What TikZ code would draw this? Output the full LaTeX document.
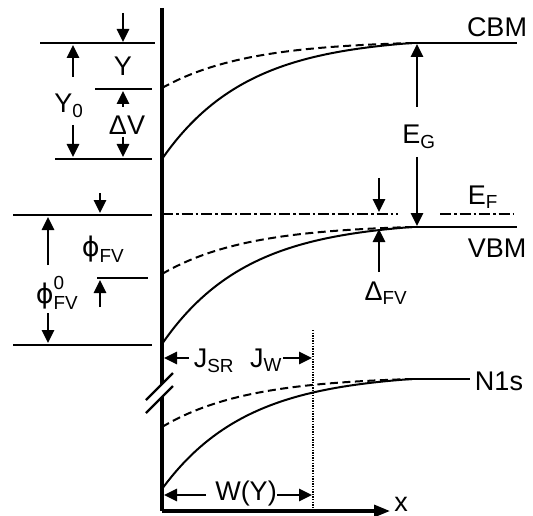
\documentclass[tikz,border=0pt]{standalone}
\usepackage{amsmath}
\usepackage{fontspec}
\setmainfont{Liberation Sans}
\newfontfamily\dejavu{DejaVu Sans}
\usetikzlibrary{arrows.meta}

% one band edge bending towards the surface
\newcommand{\bandedge}[3]{%
  \draw[#1] plot[domain=0:250,samples=80]
    ({162+\x},{#2+(#3-#2)*(exp(-\x/85)-exp(-250/85))/(1-exp(-250/85))});}
\newcommand{\phig}{{\dejavu ϕ}}

\begin{document}
\begin{tikzpicture}[x=1pt,y=-1pt,
   lab/.style={font=\fontsize{27}{30}\selectfont,inner sep=0pt},
   dim/.style={line width=2.6pt,-{Triangle[length=13pt,width=12pt]}},
   lvl/.style={line width=2.3pt},
   band/.style={line width=2pt},
   dsh/.style={band,dash pattern=on 8pt off 4.5pt},
   fermi/.style={line width=2pt,dash pattern=on 11pt off 3pt on 2.5pt off 3pt},
   axis/.style={line width=3.2pt}]
  \useasboundingbox (0,0) rectangle (533,516);

  % axes with the break
  \draw[axis] (162,8) -- (162,384);
  \draw[axis] (162,397) -- (162,511);
  \draw[lvl] (146,400) -- (173,373);
  \draw[lvl] (146,413) -- (173,386);
  \draw[axis,-{Triangle[length=16pt,width=12pt]}] (162,511) -- (390,511);
  \node[lab] (xlab) at (401,504) {x};

  % bands
  \bandedge{dsh}{43}{88}
  \bandedge{band}{43}{159}
  \draw[band] (412,43) -- (517,43);
  \bandedge{dsh}{227}{274}
  \bandedge{band}{227}{344}
  \draw[band] (412,227) -- (517,227);
  \bandedge{dsh}{379}{427}
  \bandedge{band}{379}{489}
  \draw[band] (412,379) -- (470,379);
  \draw[fermi] (162,214) -- (398,214);
  \draw[fermi] (440,214) -- (513,214);
  \draw[line width=1.4pt,dash pattern=on 1.3pt off 1.3pt] (313,330) -- (313,508);

  \node[lab] (cbm) at (497,27) {CBM};
  \node[lab] (vbm) at (497,248) {VBM};
  \node[lab] (n1s) at (499,381) {N1s};
  \node[lab] (ef) at (483,197) {$\text{E}_\text{F}$};
  \node[lab] (eg) at (419,137) {$\text{E}_\text{G}$};
  \node[lab] (dfv) at (386,293) {$\text{Δ}_\text{FV}$};
  \draw[dim] (417,107) -- (417,44);
  \draw[dim] (417,157) -- (417,226);
  \draw[dim] (379,178) -- (379,212);
  \draw[dim] (379,272) -- (379,229);

  % left side levels
  \draw[lvl] (40,43) -- (155,43);
  \draw[lvl] (95,89) -- (152,89);
  \draw[lvl] (55,159) -- (152,159);
  \draw[lvl] (13,215) -- (152,215);
  \draw[lvl] (97,278) -- (148,278);
  \draw[lvl] (13,345) -- (152,345);

  \node[lab] (y) at (123,66) {Y};
  \node[lab] (y0) at (69,106) {$\text{Y}_\text{0}$};
  \node[lab] (dv) at (127,125) {ΔV};
  \node[lab] (pfv) at (103,249) {$\text{\phig}_\text{FV}$};
  \node[lab] (pfv0) at (57,293) {$\text{\phig}^\text{0}_\text{FV}$};
  \draw[dim] (123,13) -- (123,42);
  \draw[dim] (73,77) -- (73,45);
  \draw[dim] (73,125) -- (73,157);
  \draw[dim] (123,107) -- (123,91);
  \draw[dim] (123,137) -- (123,157);
  \draw[dim] (100,193) -- (100,213);
  \draw[dim] (48,265) -- (48,217);
  \draw[dim] (100,307) -- (100,280);
  \draw[dim] (48,313) -- (48,343);

  % widths
  \node[lab] (jsr) at (214,361) {$\text{J}_\text{SR}$};
  \node[lab] (jw) at (266,360) {$\text{J}_\text{W}$};
  \node[lab] (w) at (246,494) {W(Y)};
  \draw[dim] (189,358) -- (164,358);
  \draw[dim] (283,358) -- (312,358);
  \draw[dim] (206,495) -- (164,495);
  \draw[dim] (277,495) -- (312,495);
\end{tikzpicture}
\end{document}
